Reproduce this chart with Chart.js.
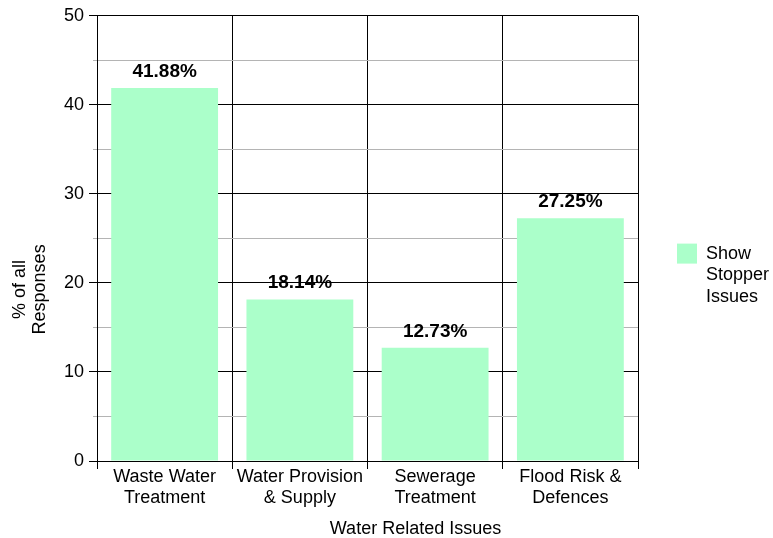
<!DOCTYPE html>
<html>
<head>
<meta charset="utf-8">
<script src="https://cdn.jsdelivr.net/npm/chart.js@4/dist/chart.umd.min.js"></script>
<style>
  html, body { margin: 0; padding: 0; background: #fff; }
  #wrap { width: 773px; height: 538px; }
</style>
</head>
<body>
<div id="wrap"><canvas id="chart" width="773" height="538"></canvas></div>
<script>
// Categories on the x axis (two-line labels)
const categories = [
  ['Waste Water', 'Treatment'],
  ['Water Provision', '& Supply'],
  ['Sewerage', 'Treatment'],
  ['Flood Risk &', 'Defences']
];
// Share of all responses flagged as show stoppers (%)
const showStopperPct = [41.88, 18.14, 12.73, 27.25];
// Legend text, one entry per line
const seriesLabel = ['Show', 'Stopper', 'Issues'];
// Axis titles
const yTitleLines = ['% of all', 'Responses'];
const xTitleText = 'Water Related Issues';
// Value axis range and tick spacing
const yMin = 0;
const yMax = 50;
const yStep = 5;
const yLabelEvery = 10;

const FONT = '"Liberation Sans", Arial, Helvetica, sans-serif';
const BAR_GREEN = '#abffca';
const MINOR_GREY = '#b4b4b4';

Chart.defaults.font.family = FONT;
Chart.defaults.color = '#000';

const isMajor = v => v % yLabelEvery === 0;

// Short grey tick marks for the minor (unlabelled) y ticks
const minorTicks = {
  id: 'minorTicks',
  beforeDatasetsDraw(chart) {
    const { ctx } = chart;
    const y = chart.scales.y;
    ctx.save();
    ctx.strokeStyle = MINOR_GREY;
    ctx.lineWidth = 1;
    y.ticks.forEach(t => {
      if (isMajor(t.value)) return;
      const py = Math.round(y.getPixelForValue(t.value)) + 0.5;
      ctx.beginPath();
      ctx.moveTo(y.right - 4, py);
      ctx.lineTo(y.right, py);
      ctx.stroke();
    });
    ctx.restore();
  }
};

// Percent labels above each bar
const valueLabels = {
  id: 'valueLabels',
  afterDatasetsDraw(chart) {
    const { ctx } = chart;
    chart.data.datasets.forEach((ds, di) => {
      const meta = chart.getDatasetMeta(di);
      meta.data.forEach((bar, i) => {
        ctx.save();
        ctx.font = 'bold 19px ' + FONT;
        ctx.fillStyle = '#000';
        ctx.textAlign = 'center';
        ctx.textBaseline = 'alphabetic';
        ctx.fillText(ds.data[i].toFixed(2) + '%', bar.x, bar.y - 11);
        ctx.restore();
      });
    });
  }
};

// Axis titles, placed a little right of / below the plot centre
const axisTitles = {
  id: 'axisTitles',
  afterDraw(chart) {
    const { ctx, chartArea } = chart;
    ctx.save();
    ctx.fillStyle = '#000';
    ctx.font = '18px ' + FONT;
    ctx.textAlign = 'center';
    ctx.textBaseline = 'middle';
    ctx.fillText(xTitleText, (chartArea.left + chartArea.right) / 2 + 48, chartArea.bottom + 68);

    const yc = (chartArea.top + chartArea.bottom) / 2 + 51;
    ctx.translate(20, yc);
    ctx.rotate(-Math.PI / 2);
    yTitleLines.forEach((line, i) => ctx.fillText(line, 0, i * 20));
    ctx.restore();
  }
};

new Chart(document.getElementById('chart'), {
  type: 'bar',
  data: {
    labels: categories,
    datasets: [{
      label: seriesLabel.join(' '),
      data: showStopperPct,
      backgroundColor: BAR_GREEN,
      borderWidth: 0,
      barPercentage: 0.79,
      categoryPercentage: 1
    }]
  },
  options: {
    responsive: false,
    animation: false,
    layout: { padding: { top: 14, left: 0, right: 0, bottom: 0 } },
    plugins: {
      tooltip: { enabled: false },
      legend: {
        position: 'right',
        maxWidth: 135,
        labels: {
          boxWidth: 20,
          boxHeight: 20,
          padding: 39,
          color: '#000',
          font: { size: 18 },
          generateLabels: chart => chart.data.datasets.map((ds, i) => ({
            text: seriesLabel,
            fillStyle: ds.backgroundColor,
            strokeStyle: ds.backgroundColor,
            lineWidth: 0,
            hidden: false,
            datasetIndex: i
          }))
        }
      }
    },
    scales: {
      x: {
        grid: { offset: true, color: '#000', lineWidth: 1, tickLength: 8, tickColor: '#000' },
        border: { color: '#000', width: 1 },
        ticks: { font: { size: 18 }, color: '#000', padding: -3, maxRotation: 0, autoSkip: false },
        afterFit: s => { s.height = 77; }
      },
      y: {
        min: yMin,
        max: yMax,
        ticks: {
          stepSize: yStep,
          font: { size: 18 },
          color: '#000',
          padding: 5,
          callback: v => (isMajor(v) ? v : '')
        },
        grid: {
          color: c => (c.tick && isMajor(c.tick.value) ? '#000' : MINOR_GREY),
          tickColor: c => (c.tick && isMajor(c.tick.value) ? '#000' : 'rgba(0,0,0,0)'),
          tickLength: 8,
          lineWidth: 1
        },
        border: { color: '#000', width: 1 },
        afterFit: s => { s.width = 97; }
      }
    }
  },
  plugins: [minorTicks, valueLabels, axisTitles]
});
</script>
</body>
</html>
